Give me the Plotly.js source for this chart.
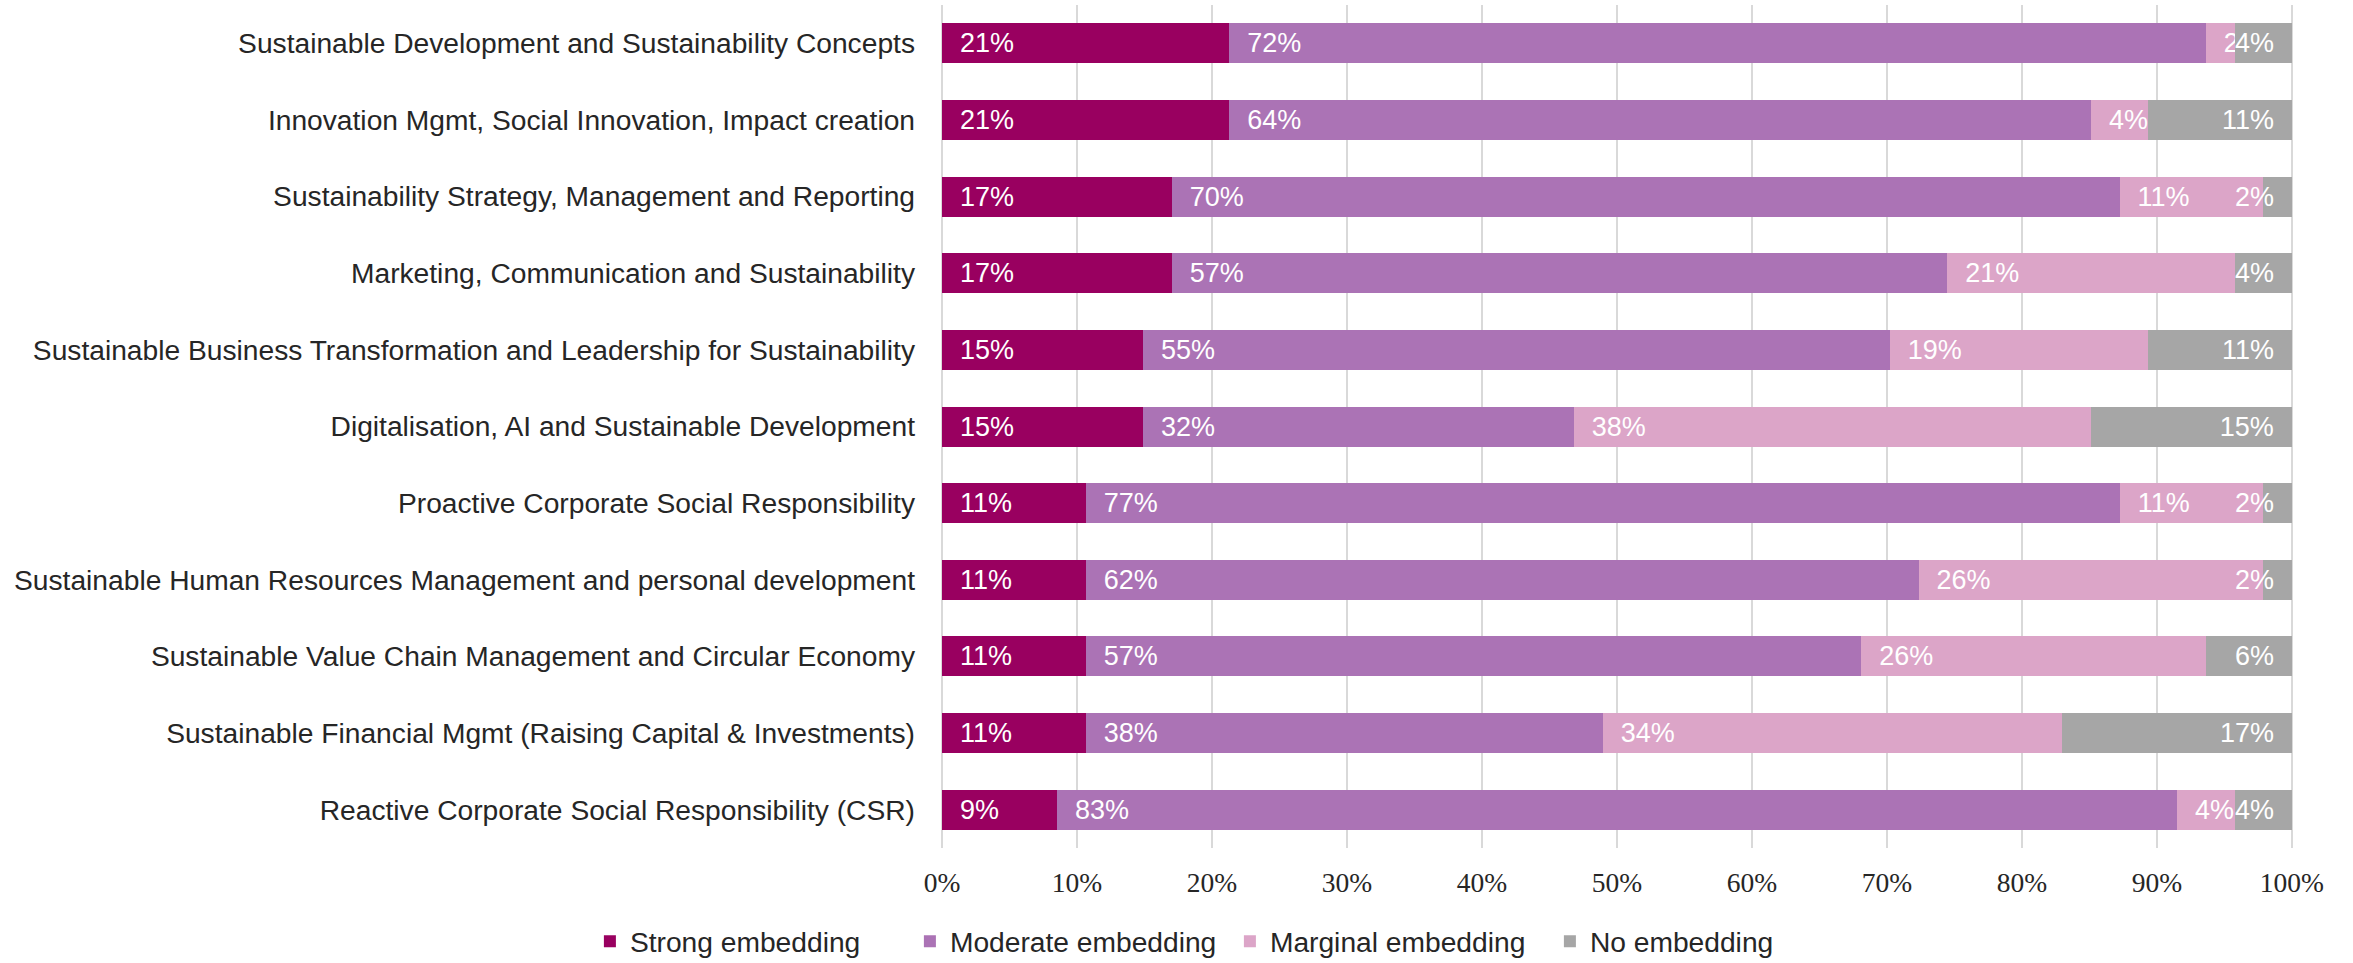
<!DOCTYPE html>
<html>
<head>
<meta charset="utf-8">
<script src="https://cdn.plot.ly/plotly-3.0.1.min.js"></script>
<style>html,body{margin:0;padding:0;background:#fff;}</style>
</head>
<body>
<div id="chart" style="width:2353px;height:963px;"></div>
<script>
// Categories, top to bottom
var categories = [
  "Sustainable Development and Sustainability Concepts",
  "Innovation Mgmt, Social Innovation, Impact creation",
  "Sustainability Strategy, Management and Reporting",
  "Marketing, Communication and Sustainability",
  "Sustainable Business Transformation and Leadership for Sustainability",
  "Digitalisation, AI and Sustainable Development",
  "Proactive Corporate Social Responsibility",
  "Sustainable Human Resources Management and personal development",
  "Sustainable Value Chain Management and Circular Economy",
  "Sustainable Financial Mgmt (Raising Capital & Investments)",
  "Reactive Corporate Social Responsibility (CSR)"
];

// Shares in percent
var strongEmbedding   = [21.28, 21.28, 17.02, 17.02, 14.89, 14.89, 10.64, 10.64, 10.64, 10.64, 8.51];
var moderateEmbedding = [72.34, 63.83, 70.21, 57.45, 55.32, 31.91, 76.60, 61.70, 57.45, 38.30, 82.98];
var marginalEmbedding = [2.13, 4.26, 10.64, 21.28, 19.15, 38.30, 10.64, 25.53, 25.53, 34.04, 4.26];
var noEmbedding       = [4.26, 10.64, 2.13, 4.26, 10.64, 14.89, 2.13, 2.13, 6.38, 17.02, 4.26];

var seriesNames = ["Strong embedding", "Moderate embedding", "Marginal embedding", "No embedding"];
var xTickVals = [0, 10, 20, 30, 40, 50, 60, 70, 80, 90, 100];
var xTickText = ["0%", "10%", "20%", "30%", "40%", "50%", "60%", "70%", "80%", "90%", "100%"];

var sans = "Liberation Sans, Arial, sans-serif";
var serif = "Liberation Serif, Georgia, serif";

function mk(vals, name, color, anchor) {
  return {
    type: "bar",
    orientation: "h",
    y: categories,
    x: vals,
    name: name,
    marker: {color: color, line: {width: 0}},
    texttemplate: anchor === "start" ? "\u00a0\u00a0%{x:.0f}%" : "%{x:.0f}%\u00a0\u00a0",
    textposition: "inside",
    insidetextanchor: anchor,
    textangle: 0,
    constraintext: "none",
    cliponaxis: false,
    textfont: {family: sans, size: 27, color: "#ffffff"},
    hoverinfo: "x+name"
  };
}

var data = [
  mk(strongEmbedding, seriesNames[0], "#990060", "start"),
  mk(moderateEmbedding, seriesNames[1], "#AB73B5", "start"),
  mk(marginalEmbedding, seriesNames[2], "#DCA5C8", "start"),
  mk(noEmbedding, seriesNames[3], "#A6A6A6", "end")
];

var layout = {
  width: 2353,
  height: 963,
  barmode: "stack",
  bargap: 0.478,
  margin: {l: 942, r: 60, t: 5, b: 115, pad: 0},
  paper_bgcolor: "#ffffff",
  plot_bgcolor: "#ffffff",
  font: {family: sans, color: "#262626"},
  uniformtext: {mode: "show", minsize: 27},
  xaxis: {
    range: [0, 100.08],
    tickmode: "array",
    tickvals: xTickVals,
    ticktext: xTickText,
    showgrid: true,
    gridcolor: "#D9D9D9",
    gridwidth: 2.5,
    zeroline: true,
    zerolinecolor: "#D9D9D9",
    zerolinewidth: 2.5,
    showline: false,
    ticks: "",
    ticklabelstandoff: 15,
    automargin: false,
    tickfont: {family: serif, size: 27.5, color: "#262626"},
    fixedrange: true
  },
  yaxis: {
    autorange: "reversed",
    type: "category",
    showgrid: false,
    zeroline: false,
    showline: false,
    ticks: "",
    ticklabelstandoff: 26,
    automargin: false,
    tickfont: {family: sans, size: 28.2, color: "#262626"},
    fixedrange: true
  },
  showlegend: true,
  legend: {
    orientation: "h",
    xref: "container",
    yref: "container",
    x: 0.2507,
    xanchor: "left",
    y: 0.0225,
    yanchor: "middle",
    entrywidth: 275,
    entrywidthmode: "pixels",
    itemwidth: 30,
    traceorder: "normal",
    font: {family: sans, size: 28.2, color: "#262626"},
    bgcolor: "rgba(0,0,0,0)"
  }
};

Plotly.newPlot("chart", data, layout, {displayModeBar: false, staticPlot: true});
</script>
</body>
</html>
